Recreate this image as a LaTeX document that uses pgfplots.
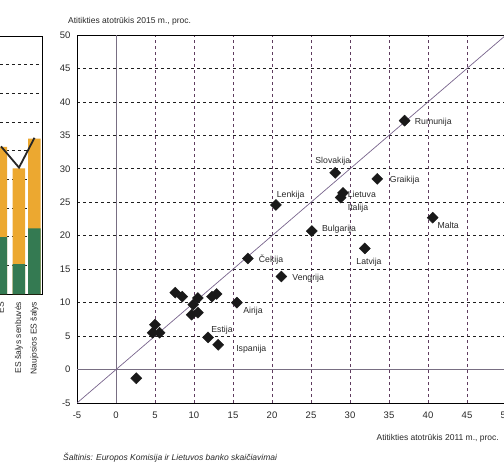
\documentclass[border=0pt]{standalone}
\usepackage{pgfplots}
\pgfplotsset{compat=1.18}
\usepackage{fontspec}
\setmainfont{Liberation Sans}
\definecolor{hgrid}{RGB}{30,30,30}
\definecolor{vgrid}{RGB}{95,60,95}
\definecolor{diag}{RGB}{120,100,140}
\definecolor{zeroc}{RGB}{120,110,130}
\definecolor{barorange}{RGB}{236,168,48}
\definecolor{bargreen}{RGB}{52,122,82}
\definecolor{txt}{RGB}{40,40,40}
\definecolor{mk}{RGB}{25,25,25}
\begin{document}
\begin{tikzpicture}[x=1pt,y=1pt]
\useasboundingbox (0,0) rectangle (504,464);
\clip (0,0) rectangle (504,464);
% ---- left fragment of a neighbouring bar chart ----
\begin{axis}[at={(42pt,170pt)}, anchor=south east, scale only axis,
  width=120pt, height=258pt, xmin=-78, xmax=42, ymin=0, ymax=90,
  ybar, bar width=12.5pt, bar shift=0pt,
  axis line style={black, line width=0.7pt},
  xtick={1,19,34.5}, xticklabels={ES, ES šalys senbuvės, Naujosios ES šalys},
  xticklabel style={rotate=90, anchor=east, font=\fontsize{8.5}{9}\selectfont, text=txt},
  ytick={10,20,...,80}, yticklabels={},
  tick style={draw=none},
  ymajorgrids, y grid style={hgrid, dashed, line width=0.7pt},
  axis on top=false]
\addplot[fill=barorange, draw=none] coordinates {(1,51.3) (19,43.8) (34.5,54.2)};
\addplot[fill=bargreen, draw=none] coordinates {(1,19.8) (19,10.4) (34.5,22.9)};
\addplot[sharp plot, black!85, line width=1.8pt, mark=none] coordinates {(1,51.5) (19,44.1) (34.5,54.5)};
\end{axis}
% ---- main scatter ----
\begin{axis}[at={(77pt,61pt)}, anchor=south west, scale only axis,
  width=429pt, height=368pt, xmin=-5, xmax=50, ymin=-5, ymax=50,
  xtick={-5,0,...,50}, ytick={-5,0,...,50},
  axis line style={black, line width=0.8pt},
  tick style={draw=none},
  /pgf/number format/assume math mode=true,
  ticklabel style={font=\fontsize{9.5}{10}\selectfont, text=txt},
  xticklabel style={yshift=-5pt},
  yticklabel style={xshift=-3pt},
  xmajorgrids, ymajorgrids,
  x grid style={vgrid, dashed, line width=0.8pt},
  y grid style={hgrid, dashed, line width=0.8pt},
  clip=true]
\addplot[zeroc, line width=0.6pt] coordinates {(0,-5) (0,50)};
\addplot[zeroc, line width=0.6pt] coordinates {(-5,0) (50,0)};
\addplot[diag, line width=0.7pt] coordinates {(-5,-5) (50,50)};
\addplot[only marks, mark=square*, mark size=3.9pt, mark options={rotate=45, fill=mk, draw=mk}]
  coordinates {
  (37.0,37.2) (28.1,29.4) (33.5,28.5) (29.1,26.4) (28.8,25.7) (20.5,24.6)
  (25.1,20.7) (40.6,22.7) (31.9,18.1) (16.9,16.6) (21.2,13.9) (15.5,10.0)
  (11.8,4.8) (13.1,3.7) (2.6,-1.3) (7.6,11.5) (8.5,10.9) (10.5,10.7)
  (9.9,9.7) (12.3,10.9) (12.9,11.3) (9.7,8.2) (10.5,8.5) (5.0,6.7)
  (4.7,5.5) (5.6,5.5)};
\begin{scope}[every node/.style={font=\fontsize{8.7}{9}\selectfont, text=txt, inner sep=0pt}]
\node[anchor=west] at (axis cs:38.3,37.0) {Rumunija};
\node[anchor=center] at (axis cs:27.8,31.2) {Slovakija};
\node[anchor=west] at (axis cs:35.1,28.3) {Graikija};
\node[anchor=west] at (axis cs:29.7,26.2) {Lietuva};
\node[anchor=west] at (axis cs:29.7,24.1) {Italija};
\node[anchor=west] at (axis cs:20.6,26.1) {Lenkija};
\node[anchor=west] at (axis cs:26.4,20.9) {Bulgarija};
\node[anchor=west] at (axis cs:30.8,16.1) {Latvija};
\node[anchor=west] at (axis cs:41.2,21.5) {Malta};
\node[anchor=west] at (axis cs:18.3,16.4) {Čekija};
\node[anchor=west] at (axis cs:22.6,13.7) {Vengrija};
\node[anchor=west] at (axis cs:16.3,8.75) {Airija};
\node[anchor=west] at (axis cs:12.2,5.9) {Estija};
\node[anchor=west] at (axis cs:15.4,3.1) {Ispanija};
\end{scope}
\end{axis}
% ---- texts around ----
\node[anchor=west, inner sep=0pt, font=\fontsize{8.5}{9}\selectfont, text=txt] at (68,443) {Atitikties atotrūkis 2015 m., proc.};
\node[anchor=east, inner sep=0pt, font=\fontsize{8.5}{9}\selectfont, text=txt] at (499,26) {Atitikties atotrūkis 2011 m., proc.};
\node[anchor=west, inner sep=0pt, font=\fontsize{8.5}{9}\selectfont\itshape, text=txt] at (63,6) {Šaltinis: Europos Komisija ir Lietuvos banko skaičiavimai};
\end{tikzpicture}
\end{document}
